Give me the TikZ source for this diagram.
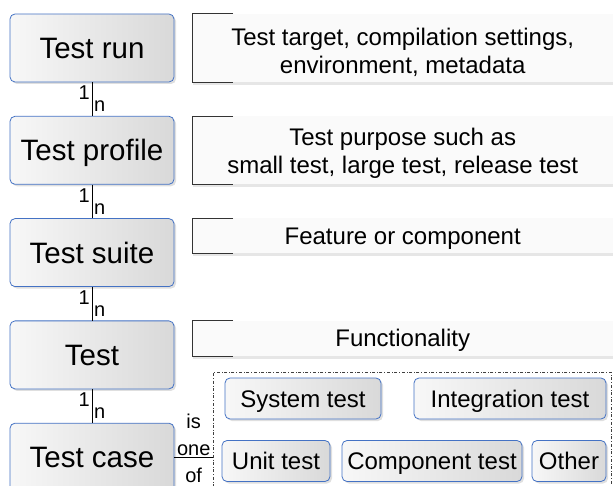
\documentclass[tikz,border=0pt]{standalone}
\usepackage{fontspec}
\setmainfont{Liberation Sans}
\usepackage{xcolor}
\usepackage{tikz}
\usetikzlibrary{positioning, shadows}

\definecolor{levelblue}{RGB}{68,114,196}

\begin{document}
\begin{tikzpicture}[x=1pt, y=-1pt,
    level/.style={draw=levelblue, thick, rounded corners=5pt,
      left color=gray!6, right color=gray!30,
      drop shadow={opacity=0.25, shadow xshift=2pt, shadow yshift=-2pt},
      minimum width=164pt, minimum height=68pt, inner sep=0pt,
      text height=21pt, text depth=0pt,
      font=\fontsize{29.5}{32}\selectfont},
    kind/.style={draw=levelblue, thick, rounded corners=5pt,
      left color=gray!6, right color=gray!30,
      drop shadow={opacity=0.25, shadow xshift=2pt, shadow yshift=-2pt},
      minimum height=41pt, inner sep=0pt,
      text height=17pt, text depth=0pt,
      font=\fontsize{24}{26}\selectfont},
    note/.style={fill=gray!4, anchor=north west, minimum width=421pt, inner sep=0pt,
      drop shadow={opacity=0.2, shadow xshift=1pt, shadow yshift=-3pt}},
    notetext/.style={align=center, inner sep=0pt, font=\fontsize{24}{28}\selectfont},
    bracket/.style={draw=black!80, semithick},
    card/.style={inner sep=2pt, font=\fontsize{20}{22}\selectfont},
    group/.style={draw=black!75, dash dot, anchor=north west}
  ]
  \clip (0,0) rectangle (613,486);
  \coordinate (edge) at (192,0);

  % Levels on the left
  \node[level] (run) at (92,48) {Test run};
  \node[level, below=33.5pt of run] (profile) {Test profile};
  \node[level, below=33.5pt of profile] (suite) {Test suite};
  \node[level, below=33.5pt of suite] (test) {Test};
  \node[level, below=33.5pt of test] (case) {Test case};

  % One to many links
  \foreach \a/\b in {run/profile, profile/suite, suite/test, test/case}
    \draw (\a) -- (\b) node[pos=0.32, left, card] {1} node[pos=0.72, right, card] {n};

  % Notes with their brackets
  \node[note, minimum height=68pt,
    label={[notetext, yshift=-5pt]center:Test target, compilation settings,\\environment, metadata}]
    (runnote) at (run.north -| edge) {};
  \node[note, minimum height=68pt,
    label={[notetext, yshift=-3pt]center:Test purpose such as\\small test, large test, release test}]
    (profilenote) at (profile.north -| edge) {};
  \node[note, minimum height=35pt,
    label={[notetext, yshift=-3pt]center:Feature or component}]
    (suitenote) at (suite.north -| edge) {};
  \node[note, minimum height=35pt,
    label={[notetext, yshift=-2pt]center:Functionality}]
    (testnote) at (test.north -| edge) {};
  \foreach \n in {runnote, profilenote, suitenote, testnote}
    \draw[bracket] ([xshift=41pt]\n.north west) -- (\n.north west)
      -- (\n.south west) -- ([xshift=41pt]\n.south west);

  % Kinds of test case
  \node[group, minimum width=398pt, minimum height=128pt] (kinds) at (213,372) {};
  \node[kind, minimum width=156pt] (system) at (303,398.5) {System test};
  \node[kind, minimum width=192pt] (integration) at (510,398.5) {Integration test};
  \node[kind, minimum width=108pt] (unit) at (276,461) {Unit test};
  \node[kind, minimum width=180pt] (component) at (432,461) {Component test};
  \node[kind, minimum width=74pt] (other) at (569,461) {Other};

  \draw (case.east) -- (case.east -| kinds.west)
    node[midway, above=1pt, inner sep=0pt, align=center, font=\fontsize{20}{27}\selectfont] {is\\one}
    node[midway, below=11pt, inner sep=0pt, font=\fontsize{20}{27}\selectfont] {of};
\end{tikzpicture}
\end{document}
